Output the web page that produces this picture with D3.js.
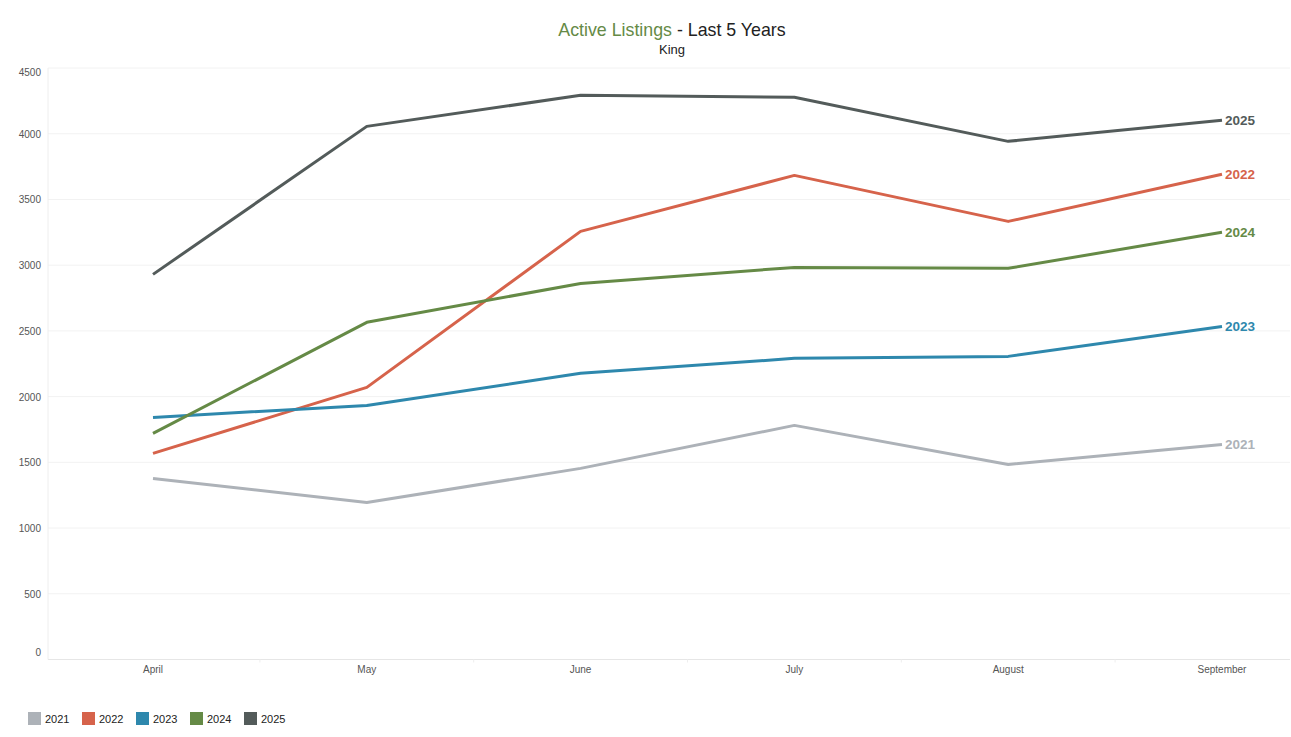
<!DOCTYPE html>
<html><head><meta charset="utf-8">
<script src="https://cdn.jsdelivr.net/npm/d3@7"></script>
<style>body{margin:0;background:#fff;font-family:"Liberation Sans",Arial,sans-serif;}</style>
</head><body><svg id="c" width="1291" height="737"></svg>
<script>
const months = ["April","May","June","July","August","September"];
const years = ["2021","2022","2023","2024","2025"];
const colors = ["#adb2b8","#d6634b","#2e88ad","#658a46","#535b5a"];
const v2021 = [1377,1195,1454,1781,1484,1636];
const v2022 = [1568,2070,3257,3683,3333,3691];
const v2023 = [1842,1933,2177,2291,2306,2534];
const v2024 = [1720,2565,2861,2983,2976,3250];
const v2025 = [2930,4056,4292,4277,3942,4102];
const yTicks = [0,500,1000,1500,2000,2500,3000,3500,4000,4500];

(function(){
const series = [v2021,v2022,v2023,v2024,v2025];
const svg = d3.select("#c");
const pL = 48, pR = 1290, pT = 68, pB = 659.5;

const x = d3.scalePoint().domain(months).range([153,1222]);
const y = d3.scaleLinear().domain([0,4500]).range([pB, pT]);

svg.append("g").selectAll("line").data(yTicks).join("line")
  .attr("x1",pL).attr("x2",pR)
  .attr("y1",d=>y(d)).attr("y2",d=>y(d))
  .attr("stroke",d=>d===0?"#e6e6e6":"#f2f2f2").attr("stroke-width",1);
svg.append("line").attr("x1",pL).attr("x2",pL).attr("y1",pT).attr("y2",pB)
  .attr("stroke","#eeeeee");

svg.append("g").selectAll("text").data(yTicks).join("text")
  .attr("x",41).attr("y",d=>{let p=y(d)+4; if(d===4500)p=y(d)+8; if(d===0)p=y(d)-4; return p;})
  .attr("text-anchor","end").attr("font-size",10).attr("fill","#555")
  .text(d=>d);

const step = x.step();
svg.append("g").selectAll("line").data(months.slice(0,-1)).join("line")
  .attr("x1",d=>x(d)+step/2).attr("x2",d=>x(d)+step/2)
  .attr("y1",pB).attr("y2",pB+3).attr("stroke","#eeeeee");
svg.append("g").selectAll("text").data(months).join("text")
  .attr("x",d=>x(d)).attr("y",673).attr("text-anchor","middle")
  .attr("font-size",10).attr("fill","#555").text(d=>d);

const line = d3.line().x((d,i)=>x(months[i])).y(d=>y(d));
series.forEach((s,k)=>{
  svg.append("path").datum(s).attr("d",line).attr("fill","none")
    .attr("stroke",colors[k]).attr("stroke-width",3).attr("stroke-linejoin","round");
  svg.append("text").attr("x",x(months[5])+3).attr("y",y(s[5])+5)
    .attr("font-size",13.5).attr("font-weight","bold").attr("fill",colors[k]).text(years[k]);
});

const t = svg.append("text").attr("x",672).attr("y",36).attr("text-anchor","middle").attr("font-size",17.8);
t.append("tspan").attr("fill","#658a46").text("Active Listings");
t.append("tspan").attr("fill","#222").text(" - Last 5 Years");
svg.append("text").attr("x",672).attr("y",54).attr("text-anchor","middle").attr("font-size",13)
  .attr("fill","#222").text("King");

const lg = svg.append("g").selectAll("g").data(years).join("g")
  .attr("transform",(d,i)=>`translate(${28+i*54},712)`);
lg.append("rect").attr("width",13).attr("height",13).attr("fill",(d,i)=>colors[i]);
lg.append("text").attr("x",17).attr("y",11).attr("font-size",11).attr("fill","#222").text(d=>d);
})();
</script></body></html>
